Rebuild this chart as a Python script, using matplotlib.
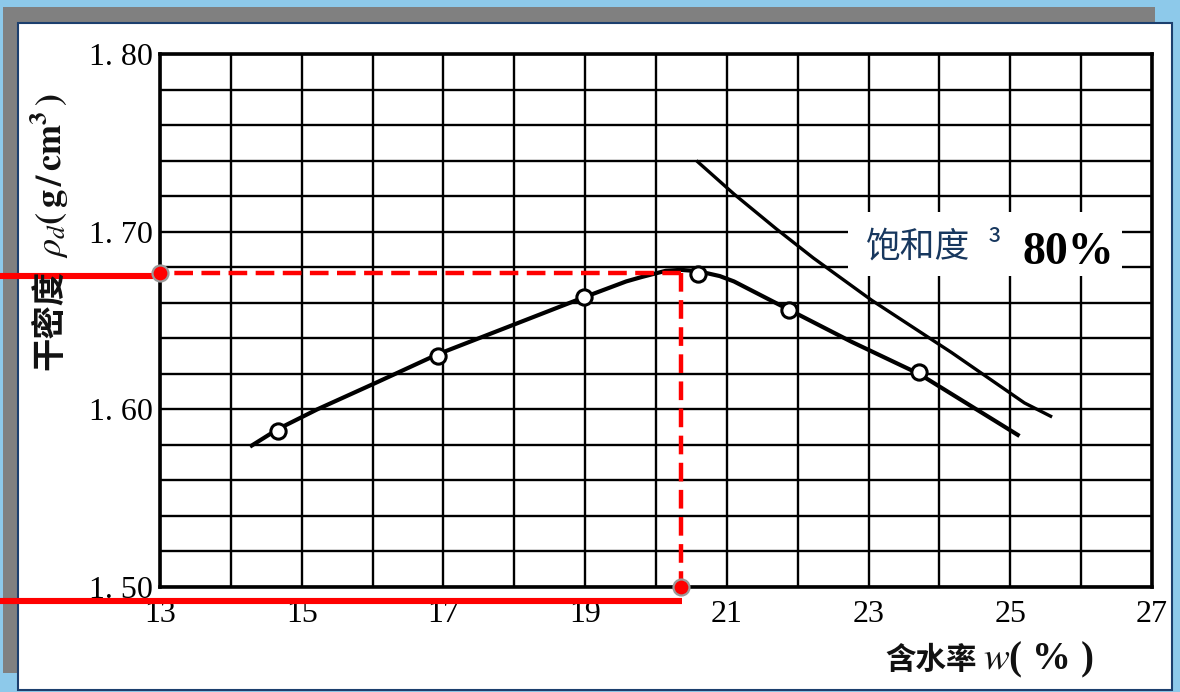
import matplotlib
matplotlib.use("Agg")
import matplotlib.pyplot as plt
from matplotlib.patches import Rectangle
import numpy as np

# ---------------- data ----------------
# measured points (water content %, dry density g/cm3)
w_points = [14.67, 16.92, 18.98, 20.59, 21.88, 23.71]
rho_points = [1.588, 1.630, 1.663, 1.676, 1.656, 1.621]

# compaction curve
w_curve = [14.27, 14.67, 15.22, 16.05, 16.92, 17.95, 18.98, 19.58, 19.80,
           20.14, 20.35, 20.59, 20.90, 21.10, 21.49, 21.88, 22.76, 23.71, 25.13]
rho_curve = [1.579, 1.589, 1.600, 1.615, 1.631, 1.647, 1.663, 1.672, 1.6745,
             1.678, 1.6785, 1.6778, 1.675, 1.672, 1.664, 1.656, 1.638, 1.620, 1.585]

# saturation line (Sr >= 80%)
w_sat = [20.57, 21.10, 21.70, 22.22, 23.04, 24.17, 25.20, 25.59]
rho_sat = [1.740, 1.7212, 1.7015, 1.6852, 1.6615, 1.632, 1.6036, 1.5957]

# optimum read-off (red marks)
w_opt = 20.35
rho_max = 1.677

x_ticks = [13, 15, 17, 19, 21, 23, 25, 27]
x_tick_labels = ["13", "15", "17", "19", "21", "23", "25", "27"]
y_ticks = [1.50, 1.60, 1.70, 1.80]
y_tick_labels = ["1. 50", "1. 60", "1. 70", "1. 80"]

# ---------------- figure ----------------
W, H = 1180, 692
plt.rcParams["mathtext.fontset"] = "stix"
fig = plt.figure(figsize=(W / 100, H / 100), dpi=100, facecolor="#8dc9ea")

def fx(px):
    return px / W

def fy(py):
    return 1 - py / H

# gray shadow and white panel
fig.patches.append(Rectangle((fx(3), fy(673)), fx(1155) - fx(3), fy(7) - fy(673),
                             transform=fig.transFigure, facecolor="#808080",
                             edgecolor="none", zorder=-10))
fig.patches.append(Rectangle((fx(18), fy(690)), fx(1172) - fx(18), fy(23) - fy(690),
                             transform=fig.transFigure, facecolor="white",
                             edgecolor="#1c3f6e", linewidth=1.5, zorder=-9))

ax_l, ax_r, ax_t, ax_b = 160, 1152, 54, 587
ax = fig.add_axes([fx(ax_l), fy(ax_b), fx(ax_r) - fx(ax_l), fy(ax_t) - fy(ax_b)])
ax.set_facecolor("white")
xmin, xmax, ymin, ymax = 13, 27, 1.50, 1.80
ax.set_xlim(xmin, xmax)
ax.set_ylim(ymin, ymax)

ax.set_xticks(x_ticks, labels=x_tick_labels)
ax.set_yticks(y_ticks, labels=y_tick_labels)
ax.set_xticks(np.arange(13, 27.5, 1), minor=True)
ax.set_yticks(np.arange(1.50, 1.8001, 0.02), minor=True)
ax.grid(True, which="both", color="black", linewidth=1.7, zorder=1)
ax.set_axisbelow(True)
ax.tick_params(which="both", length=0)
ax.tick_params(axis="x", pad=9)
ax.tick_params(axis="y", pad=5)
for lab in ax.get_xticklabels() + ax.get_yticklabels():
    lab.set_fontfamily("Liberation Serif")
    lab.set_fontsize(23)
    lab.set_color("black")
for s in ax.spines.values():
    s.set_linewidth(2.6)
    s.set_color("black")

# curves
ax.plot(w_curve, rho_curve, color="black", linewidth=3.0, zorder=3,
        solid_capstyle="butt", solid_joinstyle="round")
ax.plot(w_sat, rho_sat, color="black", linewidth=2.4, zorder=3,
        solid_capstyle="butt", solid_joinstyle="round")
ax.plot(w_points, rho_points, linestyle="none", marker="o", markersize=11,
        markerfacecolor="white", markeredgecolor="black", markeredgewidth=2.2,
        zorder=4)

# red read-off marks
px_per_x = (ax_r - ax_l) / (xmax - xmin)
px_per_y = (ax_b - ax_t) / (ymax - ymin)
x_left_edge = xmin - ax_l / px_per_x
ax.plot([w_opt, xmin], [rho_max, rho_max], color="#ff0000", linewidth=3.2,
        dashes=(4.2, 1.9), zorder=5, clip_on=False)
ax.plot([w_opt, w_opt], [rho_max, ymin], color="#ff0000", linewidth=3.2,
        dashes=(4.2, 1.9), zorder=5, clip_on=False)
ax.plot([x_left_edge, xmin], [rho_max - 3 / px_per_y] * 2, color="#ff0000",
        linewidth=4.4, zorder=5, clip_on=False, solid_capstyle="butt")
ax.plot([x_left_edge, w_opt + 1 / px_per_x], [ymin - 14 / px_per_y] * 2,
        color="#ff0000", linewidth=4.4, zorder=5, clip_on=False,
        solid_capstyle="butt")
ax.plot([xmin, w_opt], [rho_max, ymin], linestyle="none", marker="o",
        markersize=11.5, markerfacecolor="#ff0000", markeredgecolor="#9a9a9a",
        markeredgewidth=1.6, zorder=6, clip_on=False)

# axis labels
cjk = ["Noto Sans CJK SC", "DejaVu Sans"]
fig.text(fx(50), fy(320), "干密度", rotation=90, ha="center", va="center",
         fontsize=24, fontweight="bold", family=cjk, color="#111111")
fig.text(fx(50), fy(176), r"$\rho_d\mathbf{(\,g\,/\,cm^3\,)}$", rotation=90,
         ha="center", va="center", fontsize=26, color="#111111")
fig.text(fx(885), fy(660), "含水率", ha="left", va="center", fontsize=22,
         fontweight="bold", family=cjk, color="#111111")
fig.text(fx(983), fy(660), r"$w$( % )", ha="left", va="center", fontsize=28,
         family="Liberation Serif", fontweight="bold", color="#111111")

# saturation annotation box
fig.patches.append(Rectangle((fx(848), fy(276)), fx(1122) - fx(848), fy(212) - fy(276),
                             transform=fig.transFigure, facecolor="white",
                             edgecolor="none", zorder=2))
fig.text(fx(866), fy(247), "饱和度", ha="left", va="center", fontsize=25,
         family=cjk, color="#17375e", zorder=3)
fig.text(fx(988), fy(257), "³", ha="left", va="baseline", fontsize=24,
         family=cjk, color="#17375e", zorder=3)
fig.text(fx(1022), fy(264), "80%", ha="left", va="baseline", fontsize=33,
         family="Liberation Serif", fontweight="bold", color="black", zorder=3)

fig.savefig("out.png", dpi=100, facecolor=fig.get_facecolor())
